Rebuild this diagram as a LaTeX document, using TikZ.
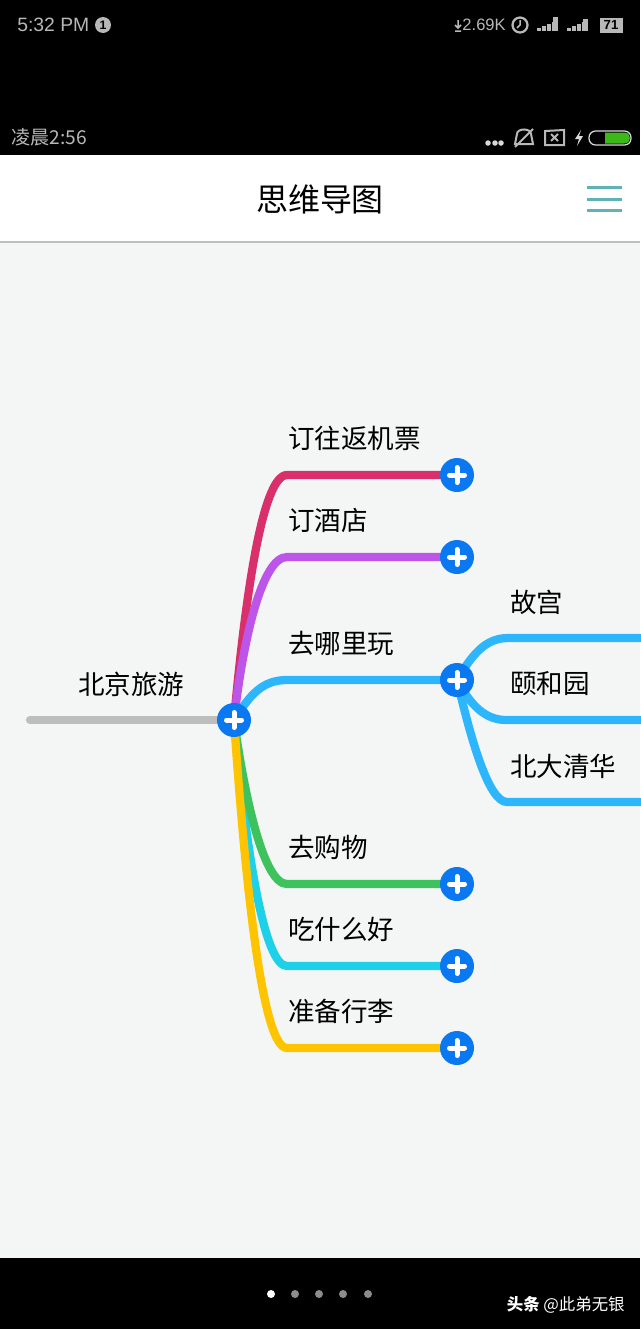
\documentclass[tikz,border=0pt]{standalone}
\usepackage{fontspec}
\setmainfont{Liberation Sans}
\newfontfamily\cjk{Noto Sans CJK SC}
\usetikzlibrary{backgrounds}
\definecolor{pagebg}{HTML}{F4F6F5}
\definecolor{rootline}{HTML}{BDBDBD}
\definecolor{btnblue}{HTML}{0A78F0}
\definecolor{flyline}{HTML}{D9306B}
\definecolor{hotelline}{HTML}{BC55E8}
\definecolor{playline}{HTML}{2DB6FC}
\definecolor{shopline}{HTML}{3DC25E}
\definecolor{foodline}{HTML}{1FD1E8}
\definecolor{packline}{HTML}{FFC400}
\definecolor{menuteal}{HTML}{5FB3B3}
\definecolor{barfg}{HTML}{B8B8B8}
\definecolor{chargegreen}{HTML}{3DB81A}
\tikzset{
    addbtn/.style={circle,fill=btnblue,minimum size=0.68cm,inner sep=0pt,
        path picture={
            \draw[white,line width=0.1cm,line cap=round]
                ([xshift=-0.15cm]path picture bounding box.center) -- ([xshift=0.15cm]path picture bounding box.center);
            \draw[white,line width=0.1cm,line cap=round]
                ([yshift=-0.15cm]path picture bounding box.center) -- ([yshift=0.15cm]path picture bounding box.center);
        }},
    topic/.style={anchor=west,inner sep=0pt,font=\cjk\fontsize{15.1}{17}\selectfont},
    branch/.style={line width=0.165cm,line cap=round},
    bartext/.style={anchor=west,inner sep=0pt,text=barfg,font=\fontsize{11}{13}\selectfont},
}
\begin{document}
\begin{tikzpicture}[x=0.02cm,y=-0.02cm]
    \useasboundingbox (0,0) rectangle (640,1329);
    \node[addbtn] (root) at (234,720) {};
    \node[addbtn] (fly) at (457,475) {};
    \node[addbtn] (hotel) at (457,557) {};
    \node[addbtn] (play) at (457,680) {};
    \node[addbtn] (shop) at (457,884) {};
    \node[addbtn] (food) at (457,966) {};
    \node[addbtn] (pack) at (457,1048) {};
    \coordinate (start) at (30,720);
    \coordinate (palace) at (640,638);
    \coordinate (summer) at (640,720);
    \coordinate (campus) at (640,802);
    \node[topic] (rootlabel) at (78,684) {北京旅游};
    \node[topic] (flylabel) at (288,438) {订往返机票};
    \node[topic] (hotellabel) at (288,520) {订酒店};
    \node[topic] (playlabel) at (288,643) {去哪里玩};
    \node[topic] (palacelabel) at (510,602) {故宫};
    \node[topic] (summerlabel) at (510,684) {颐和园};
    \node[topic] (campuslabel) at (510,766) {北大清华};
    \node[topic] (shoplabel) at (288,847) {去购物};
    \node[topic] (foodlabel) at (288,929) {吃什么好};
    \node[topic] (packlabel) at (288,1011) {准备行李};
    \node[anchor=center,inner sep=0pt,font=\cjk\fontsize{18.2}{20}\selectfont] (title) at (320,199) {思维导图};
    \node[bartext] (clock) at (17,25) {5:32 PM};
    \node[circle,fill=barfg,inner sep=0pt,minimum size=0.32cm,text=black,font=\fontsize{7}{8}\selectfont\bfseries] (badge) at (103,25) {1};
    \node[bartext,anchor=east,font=\fontsize{9.4}{11}\selectfont] (speed) at (506,25) {2.69K};
    \node[bartext,font=\cjk\fontsize{10.9}{12}\selectfont] (night) at (11,137) {凌晨2:56};
    \node[fill=barfg,inner sep=0pt,minimum width=0.46cm,minimum height=0.3cm,text=black,font=\fontsize{7.5}{8}\selectfont\bfseries] (level) at (611,25) {71};
    \node[inner sep=0pt,anchor=east,text=white,font=\cjk\fontsize{9.35}{11}\selectfont] (credit) at (625,1305) {\textbf{头条} @此弟无银};
    \begin{pgfonlayer}{background}
        \fill[pagebg] (0,242) rectangle (640,1258);
        \fill[black] (0,0) rectangle (640,155);
        \fill[white] (0,155) rectangle (640,241);
        \fill[black!25] (0,241) rectangle (640,243);
        \fill[black] (0,1258) rectangle (640,1329);
        \draw[branch,rootline] (start) -- (root.center);
        \draw[branch,flyline] (root.center) .. controls (245,600) and (262,475) .. (287,475) -- (fly.center);
        \draw[branch,hotelline] (root.center) .. controls (243,640) and (262,557) .. (287,557) -- (hotel.center);
        \draw[branch,playline] (root.center) .. controls (250,695) and (262,680) .. (287,680) -- (play.center);
        \draw[branch,playline] (play.center) .. controls (472,655) and (485,638) .. (508,638) -- (palace);
        \draw[branch,playline] (play.center) .. controls (468,700) and (482,720) .. (506,720) -- (summer);
        \draw[branch,playline] (play.center) .. controls (470,735) and (488,802) .. (507,802) -- (campus);
        \draw[branch,foodline] (root.center) .. controls (246,850) and (264,966) .. (287,966) -- (food.center);
        \draw[branch,shopline] (root.center) .. controls (245,800) and (264,884) .. (287,884) -- (shop.center);
        \draw[branch,packline] (root.center) .. controls (245,880) and (262,1048) .. (287,1048) -- (pack.center);
    \end{pgfonlayer}
    \foreach \y in {187,199,210} {
        \draw[menuteal,line width=0.06cm] (587,\y) -- (622,\y);
    }
    \foreach \x/\c in {271/white,295/black!45,319/black!45,343/black!45,368/black!45} {
        \fill[\c] (\x,1294) circle (0.08cm);
    }
    % status icons
    \draw[barfg,line width=0.03cm] (458,20) -- (458,27) (455,25) -- (458,28) -- (461,25) (455,31) -- (461,31);
    \draw[barfg,line width=0.045cm] (520,25) circle (0.15cm);
    \draw[barfg,line width=0.03cm] (520,20) -- (520,25) -- (517,28);
    \foreach \x/\h in {537/3,542/5,547/7,552/9} {
        \fill[barfg] (\x,31) rectangle ++(3.5,-\h);
        \fill[barfg] (\x+30,31) rectangle ++(3.5,-\h);
    }
    \fill[barfg] (553,17) rectangle (558,31);
    \fill[barfg] (583,19) rectangle (588,31);
    \foreach \x in {488,495,501} {
        \fill[white!85!black] (\x,143) circle (0.055cm);
    }
    \draw[barfg,line width=0.04cm] (517,134) .. controls (517,128) and (531,128) .. (531,134) -- (533,144) -- (515,144) -- cycle;
    \draw[barfg,line width=0.04cm] (515,147) -- (533,129);
    \draw[barfg,line width=0.04cm] (545,131) -- (564,130) -- (564,145) -- (545,145) -- cycle;
    \draw[barfg,line width=0.04cm] (551,134) -- (558,141) (558,134) -- (551,141);
    \fill[white!85!black] (581,130) -- (575,139) -- (579,139) -- (577,146) -- (583,136) -- (579,136) -- cycle;
    \draw[white!85!black,line width=0.025cm,rounded corners=0.13cm] (589,131) rectangle (631,145);
    \fill[chargegreen] (605,132.5) -- (624,132.5) .. controls (632,132.5) and (632,143.5) .. (624,143.5) -- (605,143.5) -- cycle;
\end{tikzpicture}
\end{document}
